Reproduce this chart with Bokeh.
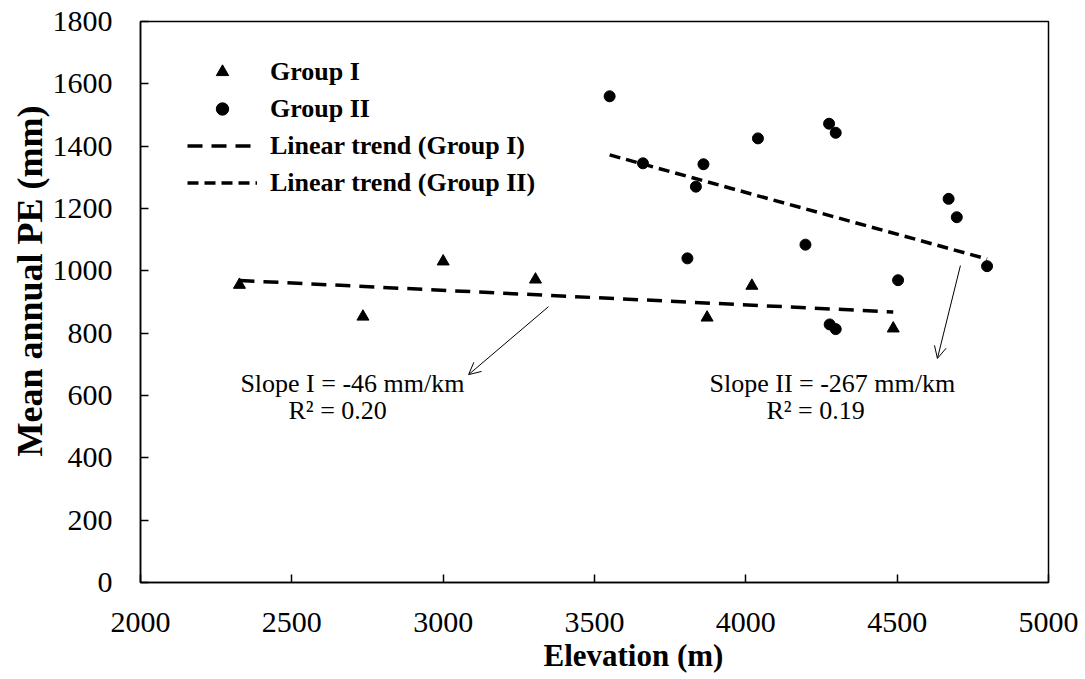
from bokeh.plotting import figure
from bokeh.models import (Range1d, Legend, LegendItem, Label, Arrow, OpenHead,
                          FixedTicker, ColumnDataSource, Title)
from bokeh.embed import file_html
from bokeh.resources import INLINE

# ---- data ----
g1_elev = [2327, 2735, 3000, 3305, 3872, 4020, 4487]
g1_pe = [955, 853, 1030, 972, 850, 952, 815]

g2_elev = [3550, 3660, 3860, 3835, 4040, 4275, 4297, 4670, 4697, 4197,
           3807, 4797, 4503, 4277, 4297]
g2_pe = [1560, 1345, 1342, 1270, 1425, 1472, 1443, 1231, 1172, 1084,
         1040, 1015, 970, 828, 813]

trend1_x = [2327, 4487]
trend1_y = [969, 868]
trend2_x = [3550, 4797]
trend2_y = [1372, 1038]

x_ticks = [2000, 2500, 3000, 3500, 4000, 4500, 5000]
y_ticks = [0, 200, 400, 600, 800, 1000, 1200, 1400, 1600, 1800]

SERIF = "Liberation Serif"

p = figure(width=1084, height=678, output_backend="svg", toolbar_location=None,
           x_range=Range1d(2000, 5000), y_range=Range1d(0, 1800),
           min_border_left=140, min_border_right=36, min_border_top=21,
           min_border_bottom=96)
p.xgrid.visible = False
p.ygrid.visible = False
p.outline_line_color = "black"
p.outline_line_width = 1.5
p.background_fill_color = "white"
p.border_fill_color = "white"

for ax in (p.xaxis[0], p.yaxis[0]):
    ax.axis_line_color = "black"
    ax.axis_line_width = 1.5
    ax.major_tick_in = 8
    ax.major_tick_out = 0
    ax.major_tick_line_width = 1.5
    ax.minor_tick_line_color = None
    ax.major_label_text_font = SERIF
    ax.major_label_text_font_size = "30px"
    ax.major_label_text_color = "black"

p.xaxis[0].ticker = FixedTicker(ticks=x_ticks)
p.yaxis[0].ticker = FixedTicker(ticks=y_ticks)
p.xaxis[0].major_label_standoff = 30
p.yaxis[0].major_label_standoff = 28

s1 = ColumnDataSource(dict(x=g1_elev, y=g1_pe))
s2 = ColumnDataSource(dict(x=g2_elev, y=g2_pe))
r_g1 = p.scatter("x", "y", source=s1, marker="triangle", size=12,
                 fill_color="black", line_color="black")
r_g2 = p.scatter("x", "y", source=s2, marker="circle", size=11,
                 fill_color="black", line_color="black")
r_t1 = p.line(trend1_x, trend1_y, line_color="black", line_width=3.5,
              line_dash="15 9")
r_t2 = p.line(trend2_x, trend2_y, line_color="black", line_width=3.5,
              line_dash="11 6")

legend = Legend(items=[
    LegendItem(label="Group I", renderers=[r_g1]),
    LegendItem(label="Group II", renderers=[r_g2]),
    LegendItem(label="Linear trend (Group I)", renderers=[r_t1]),
    LegendItem(label="Linear trend (Group II)", renderers=[r_t2]),
], location=(47, 384))
legend.border_line_color = None
legend.background_fill_alpha = 0
legend.label_text_font = SERIF
legend.label_text_font_style = "bold"
legend.label_text_font_size = "26px"
legend.label_text_color = "black"
legend.glyph_width = 70
legend.glyph_height = 31
legend.spacing = 6
legend.padding = 0
legend.margin = 0
legend.label_standoff = 13
p.add_layout(legend, "center")

# axis titles (positioned like the reference, off-centre)
p.add_layout(Title(text="Elevation (m)", align="left", offset=403,
                   text_font=SERIF, text_font_style="bold", text_font_size="31px",
                   text_color="black", standoff=2), "below")
p.add_layout(Title(text="Mean annual PE (mm)", align="left", offset=126,
                   text_font=SERIF, text_font_style="bold", text_font_size="36px",
                   text_color="black", standoff=0), "left")

# annotations
for x, y, t in [(2330, 638, "Slope I = -46 mm/km"), (2489, 552, "R\u00b2 = 0.20"),
                (3880, 638, "Slope II = -267 mm/km"), (4068, 552, "R\u00b2 = 0.19")]:
    p.add_layout(Label(x=x, y=y, text=t, text_font=SERIF, text_font_size="26px",
                       text_color="black", text_align="left",
                       text_baseline="middle"))

p.add_layout(Arrow(end=OpenHead(size=12, line_width=1), x_start=3348, y_start=885,
                   x_end=3084, y_end=667, line_width=1))
p.add_layout(Arrow(end=OpenHead(size=12, line_width=1), x_start=4709, y_start=1017,
                   x_end=4633, y_end=719, line_width=1))

open("out.html", "w").write(file_html(p, INLINE))
